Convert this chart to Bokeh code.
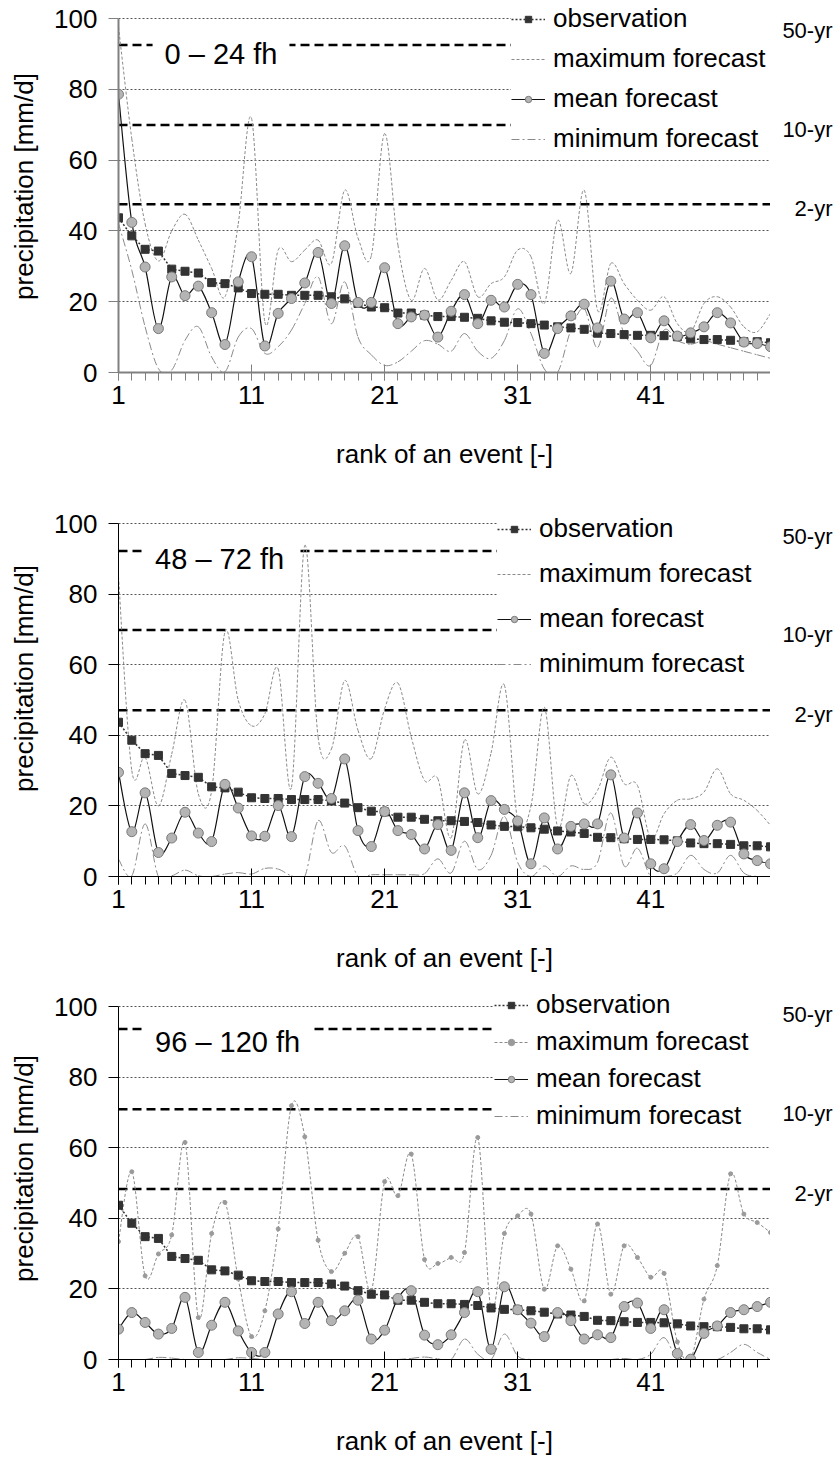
from bokeh.plotting import figure
from bokeh.layouts import column, row
from bokeh.models import (Range1d, FixedTicker, Label, Legend, LegendItem,
                          ColumnDataSource)
from bokeh.embed import file_html
from bokeh.resources import INLINE

# ---------------- data ----------------
ranks = list(range(1, 51))
x_ticks = [1, 11, 21, 31, 41]
y_ticks = [0, 20, 40, 60, 80, 100]

observation = [43.7, 38.6, 34.8, 34.3, 29.2, 28.6, 28.1, 25.4, 25.1, 23.9,
               22.3, 22.1, 22.1, 21.8, 21.8, 21.8, 21.4, 20.8, 19.5, 18.5,
               18.3, 16.8, 16.8, 16.2, 15.8, 15.8, 15.6, 15.3, 14.6, 14.2,
               14.1, 13.8, 13.4, 12.9, 12.6, 12.2, 11.1, 11.0, 10.7, 10.5,
               10.5, 10.4, 10.1, 9.5, 9.3, 9.3, 9.1, 8.7, 8.7, 8.4]

mean_0_24 = [78.6, 42.4, 29.8, 12.4, 27.0, 21.7, 24.4, 16.9, 7.9, 25.6,
             32.7, 7.5, 16.7, 20.9, 25.3, 33.9, 19.5, 35.8, 19.8, 19.8,
             29.6, 13.8, 15.7, 16.2, 10.0, 17.3, 22.0, 13.8, 20.4, 18.5,
             24.9, 22.0, 5.4, 12.4, 16.0, 19.3, 12.6, 25.8, 15.1, 16.9,
             9.8, 14.6, 10.3, 11.2, 12.9, 16.9, 14.0, 8.6, 8.2, 7.3]
max_0_24 = [97.6, 66.0, 42.0, 31.5, 40.0, 44.7, 37.4, 29.4, 21.4, 42.0,
            71.8, 14.3, 34.6, 31.3, 34.6, 37.4, 30.8, 51.5, 38.0, 33.0,
            67.5, 36.0, 20.4, 29.4, 20.5, 26.0, 31.3, 21.4, 25.1, 27.0,
            34.6, 32.7, 19.5, 43.0, 28.0, 51.5, 17.6, 30.8, 25.1, 20.4,
            17.6, 21.4, 13.8, 11.5, 19.5, 21.4, 18.5, 12.9, 11.5, 16.7]
min_0_24 = [42.1, 28.9, 12.9, 1.1, 0.7, 9.1, 12.9, 4.4, 0.2, 10.0,
            12.4, 5.4, 7.3, 12.0, 19.5, 27.0, 13.8, 25.6, 10.0, 5.0,
            2.0, 3.0, 6.0, 9.0, 8.0, 6.0, 11.0, 6.0, 4.0, 9.0,
            18.0, 11.0, 1.0, 0.0, 12.0, 18.0, 7.0, 21.0, 11.0, 6.0,
            2.0, 12.0, 9.0, 8.0, 9.0, 8.0, 7.0, 6.0, 5.0, 4.0]

mean_48_72 = [29.5, 12.7, 23.7, 6.8, 10.9, 18.2, 12.3, 9.9, 26.1, 19.4,
              11.5, 11.4, 20.1, 11.3, 28.3, 26.4, 22.1, 33.3, 13.0, 8.5,
              18.4, 13.0, 11.9, 7.8, 14.7, 7.4, 23.7, 11.0, 21.5, 19.0,
              15.7, 3.6, 16.6, 7.8, 14.2, 14.9, 14.9, 28.8, 10.9, 18.0,
              3.6, 2.2, 9.9, 14.7, 10.2, 14.5, 15.4, 6.4, 4.5, 3.6]
max_48_72 = [84.9, 30.0, 33.8, 20.0, 34.7, 49.9, 23.4, 24.3, 69.3, 49.9,
             42.7, 46.1, 58.8, 25.3, 93.8, 39.5, 36.1, 55.5, 41.4, 33.4,
             47.5, 54.8, 39.5, 27.2, 27.7, 11.0, 38.6, 23.4, 35.0, 54.2,
             15.9, 20.0, 48.0, 14.0, 28.6, 20.6, 24.4, 33.8, 26.3, 25.8,
             10.7, 17.8, 21.6, 22.0, 23.9, 30.5, 23.4, 21.6, 18.7, 14.5]
min_48_72 = [4.9, 0.2, 14.9, 0.0, 0.2, 1.8, 0.2, 0.0, 0.7, 1.1,
             0.7, 2.3, 2.1, 0.2, 0.0, 15.8, 6.8, 8.7, 0.0, 0.5,
             0.5, 0.5, 0.5, 0.8, 5.0, 1.0, 10.0, 2.0, 6.0, 17.0,
             4.0, 0.0, 3.0, 0.0, 3.0, 2.0, 4.0, 18.0, 3.0, 8.0,
             0.0, 0.0, 1.0, 6.0, 2.0, 1.0, 6.0, 1.0, 0.0, 0.0]

mean_96_120 = [8.6, 13.3, 10.5, 7.2, 8.8, 17.6, 2.0, 9.7, 16.2, 8.1,
               2.0, 2.0, 12.9, 19.2, 10.2, 16.2, 11.0, 13.8, 16.8, 5.8,
               8.3, 17.3, 19.5, 6.9, 4.2, 7.0, 13.3, 19.2, 2.9, 20.6,
               14.1, 10.3, 6.5, 13.3, 11.0, 5.8, 7.0, 6.2, 15.0, 16.0,
               8.8, 14.1, 1.7, 0.1, 7.4, 9.5, 13.3, 14.1, 15.0, 16.2]
max_96_120 = [33.4, 53.2, 23.7, 29.9, 35.3, 61.5, 11.9, 35.7, 44.5, 22.8,
              6.5, 13.8, 37.0, 71.9, 63.1, 33.8, 24.9, 30.1, 34.8, 19.5,
              50.4, 46.4, 58.2, 28.3, 27.2, 28.9, 30.3, 62.9, 14.3, 35.7,
              40.7, 41.2, 19.9, 32.2, 25.6, 16.6, 38.4, 18.5, 32.2, 28.9,
              23.3, 24.4, 5.0, 0.1, 17.1, 26.6, 52.6, 41.2, 38.8, 36.0]
min_96_120 = [0.0, 0.0, 0.0, 0.6, 0.4, 0.0, 0.0, 0.0, 0.0, 0.5,
              0.3, 0.0, 0.0, 0.0, 0.0, 0.0, 0.0, 0.0, 0.0, 0.0,
              0.0, 0.0, 0.3, 0.7, 0.2, 0.0, 5.8, 1.5, 0.0, 7.2,
              1.0, 0.0, 0.0, 0.0, 0.0, 0.0, 0.0, 0.0, 0.3, 0.0,
              1.5, 6.2, 0.0, 0.0, 0.0, 0.0, 2.0, 4.3, 2.0, 0.0]

rp_labels = ["50-yr", "10-yr", "2-yr"]
rp_0_24 = [92.5, 69.9, 47.5]
rp_48_72 = [92.2, 69.8, 47.1]
rp_96_120 = [93.6, 70.9, 48.3]

lead_labels = ["0 \u2013 24 fh", "48 \u2013 72 fh", "96 \u2013 120 fh"]
series_names = ["observation", "maximum forecast", "mean forecast", "minimum forecast"]

FONT = "Liberation Sans"
MAIN_W = 770
SIDE_W = 837 - MAIN_W


def smooth_source(xs, ys):
    """Bezier segments (Excel-style smoothed line) through the data points."""
    n = len(xs)
    d = dict(x0=[], y0=[], x1=[], y1=[], cx0=[], cy0=[], cx1=[], cy1=[])
    for i in range(n - 1):
        xa, ya = xs[i], ys[i]
        xb, yb = xs[i + 1], ys[i + 1]
        xp, yp = (xs[i - 1], ys[i - 1]) if i > 0 else (xa, ya)
        xn, yn = (xs[i + 2], ys[i + 2]) if i + 2 < n else (xb, yb)
        d["x0"].append(xa); d["y0"].append(ya)
        d["x1"].append(xb); d["y1"].append(yb)
        d["cx0"].append(xa + (xb - xp) / 6.0); d["cy0"].append(ya + (yb - yp) / 6.0)
        d["cx1"].append(xb - (xn - xa) / 6.0); d["cy1"].append(yb - (yn - ya) / 6.0)
    return ColumnDataSource(d)


def make_panel(mean, mx, mn, rp, lead, height, bottom, top_px, lead_x,
               leg_spacing, leg_loc, axis_color, axis_width, max_dots):
    frame_h = height - bottom
    y_end = 100.0 * frame_h / (frame_h - top_px)
    yr = Range1d(0, y_end)
    p = figure(width=MAIN_W, height=height, x_range=Range1d(ranks[0], ranks[-1]),
               y_range=yr, output_backend="svg", toolbar_location=None,
               min_border_left=118, min_border_right=0,
               min_border_top=0, min_border_bottom=bottom)
    p.outline_line_color = None
    p.background_fill_color = "white"
    p.border_fill_color = "white"

    # grid
    p.xgrid.grid_line_color = None
    p.ygrid.grid_line_color = "#555555"
    p.ygrid.grid_line_dash = "2 2"
    p.ygrid.grid_line_width = 1
    p.ygrid.ticker = FixedTicker(ticks=y_ticks)

    # axes
    p.yaxis.ticker = FixedTicker(ticks=y_ticks)
    p.xaxis.ticker = FixedTicker(ticks=x_ticks, minor_ticks=ranks)
    p.yaxis.bounds = (0, 100)
    for ax in (p.xaxis[0], p.yaxis[0]):
        ax.axis_line_color = axis_color
        ax.axis_line_width = axis_width
        ax.major_tick_line_color = axis_color
        ax.minor_tick_line_color = axis_color
        ax.major_label_text_font = FONT
        ax.major_label_text_font_size = "26px"
        ax.major_label_text_color = "black"
        ax.axis_label_text_font = FONT
        ax.axis_label_text_font_size = "26px"
        ax.axis_label_text_font_style = "normal"
        ax.axis_label_text_color = "black"
    p.yaxis.major_tick_out = 10
    p.yaxis.major_tick_in = 0
    p.yaxis.minor_tick_line_color = None
    p.yaxis.major_label_standoff = 11
    p.yaxis.axis_label = "precipitation [mm/d]"
    p.yaxis.axis_label_standoff = 12
    p.xaxis.major_tick_out = 8
    p.xaxis.major_tick_in = 8
    p.xaxis.minor_tick_out = 8
    p.xaxis.minor_tick_in = 0
    p.xaxis.major_label_standoff = 5
    p.xaxis.axis_label = "rank of an event [-]"
    p.xaxis.axis_label_standoff = 32

    # return-period lines
    p.segment(x0=[ranks[0]] * len(rp), x1=[ranks[-1]] * len(rp), y0=rp, y1=rp,
              line_color="black", line_width=2.5, line_dash="9 5")

    # series
    gray = "#8a8a8a"
    max_r = p.bezier(x0="x0", y0="y0", x1="x1", y1="y1", cx0="cx0", cy0="cy0",
                     cx1="cx1", cy1="cy1", source=smooth_source(ranks, mx),
                     line_color=gray, line_width=1, line_dash="3 2")
    min_r = p.bezier(x0="x0", y0="y0", x1="x1", y1="y1", cx0="cx0", cy0="cy0",
                     cx1="cx1", cy1="cy1", source=smooth_source(ranks, mn),
                     line_color=gray, line_width=1, line_dash="8 3 2 3")
    mean_r = p.bezier(x0="x0", y0="y0", x1="x1", y1="y1", cx0="cx0", cy0="cy0",
                      cx1="cx1", cy1="cy1", source=smooth_source(ranks, mean),
                      line_color="#111111", line_width=1.2)
    max_items = [max_r]
    if max_dots:
        max_items.append(p.scatter(ranks, mx, marker="circle", size=4,
                                   fill_color="#9a9a9a", line_color="#9a9a9a"))
    obs_line = p.line(ranks, observation, line_color="#333333", line_width=1.5,
                      line_dash="2 2")
    obs_pts = p.scatter(ranks, observation, marker="square", size=8,
                        fill_color="#333333", line_color="#333333")
    mean_pts = p.scatter(ranks, mean, marker="circle", size=10,
                         fill_color="#b4b4b4", line_color="#7a7a7a", line_width=1)

    # lead-time label
    p.add_layout(Label(x=lead_x, y=90, text=lead, text_font=FONT, text_font_size="29px",
                       text_color="black", text_baseline="middle", text_align="left",
                       background_fill_color="white", background_fill_alpha=1.0,
                       padding=12))

    legend = Legend(items=[
        LegendItem(label=series_names[0], renderers=[obs_line, obs_pts]),
        LegendItem(label=series_names[1], renderers=max_items),
        LegendItem(label=series_names[2], renderers=[mean_r, mean_pts]),
        LegendItem(label=series_names[3], renderers=[min_r]),
    ], location=leg_loc, orientation="vertical",
        label_text_font=FONT, label_text_font_size="26px", label_text_color="black",
        glyph_width=34, glyph_height=16, label_height=30, label_width=240,
        label_standoff=8, spacing=leg_spacing, padding=5, margin=0,
        border_line_color=None, background_fill_color="white",
        background_fill_alpha=1.0)
    p.add_layout(legend)

    # narrow side figure on the right with the return-period names
    side = figure(width=SIDE_W, height=height, x_range=Range1d(0, 1), y_range=yr,
                  output_backend="svg", toolbar_location=None,
                  x_axis_location=None, y_axis_location=None,
                  min_border_left=0, min_border_right=0,
                  min_border_top=0, min_border_bottom=bottom)
    side.outline_line_color = None
    side.xgrid.grid_line_color = None
    side.ygrid.grid_line_color = None
    offsets = [15, -4, -4]
    for v, t, off in zip(rp, rp_labels, offsets):
        side.add_layout(Label(x=1, y=v, x_offset=-5, y_offset=off, text=t,
                              text_font=FONT, text_font_size="22px", text_color="black",
                              text_align="right", text_baseline="middle"))
    return row(p, side, spacing=0)


p1 = make_panel(mean_0_24, max_0_24, min_0_24, rp_0_24, lead_labels[0],
                height=480, bottom=108, top_px=18, lead_x=3.56,
                leg_spacing=9, leg_loc=(393, 218),
                axis_color="#808080", axis_width=2, max_dots=False)
p2 = make_panel(mean_48_72, max_48_72, min_48_72, rp_48_72, lead_labels[1],
                height=497, bottom=101, top_px=43, lead_x=2.85,
                leg_spacing=14, leg_loc=(379, 197),
                axis_color="black", axis_width=1, max_dots=False)
p3 = make_panel(mean_96_120, max_96_120, min_96_120, rp_96_120, lead_labels[2],
                height=484, bottom=102, top_px=29, lead_x=2.85,
                leg_spacing=6, leg_loc=(376, 228),
                axis_color="black", axis_width=1, max_dots=True)

layout = column(p1, p2, p3, spacing=0)
open("out.html", "w").write(file_html(layout, INLINE))
